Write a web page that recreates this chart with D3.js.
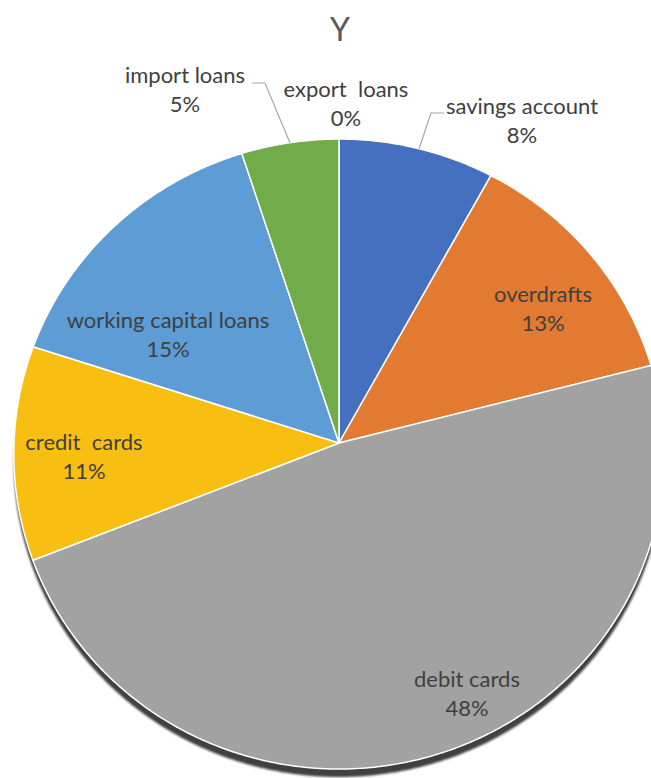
<!DOCTYPE html>
<html>
<head>
<meta charset="utf-8">
<script src="https://cdn.jsdelivr.net/npm/d3@7/dist/d3.min.js"></script>
<style>
  html, body { margin: 0; padding: 0; background: #fff; }
  svg { display: block; }
  text { font-family: Lato, "Open Sans", sans-serif; }
</style>
</head>
<body>
<svg id="chart" width="651" height="778"></svg>
<script>
// Share of each product, clockwise from 12 o'clock
const categories = ["savings account", "overdrafts", "debit cards", "credit  cards",
                    "working capital loans", "import loans", "export  loans"];
const values = [8, 13, 48, 11, 15, 5, 0];
const colors = ["#4470BF", "#E27A32", "#A2A2A2", "#F9BE12", "#5D9CD5", "#72AC4A", "#264478"];

// Label anchors (centre of the two-line label) and optional leader lines
const labelAt = {
  "savings account":       [522, 121],
  "overdrafts":            [543, 309],
  "debit cards":           [467, 694],
  "credit  cards":         [84, 457],
  "working capital loans": [168, 335],
  "import loans":          [185, 90],
  "export  loans":         [346, 104]
};
const leaders = {
  "savings account": [[419, 149], [431, 113], [444, 113]],
  "import loans":    [[252, 83], [265, 83], [290, 143]]
};

const svg = d3.select("#chart");

// Tilted disk seen in slight perspective
const cx = 339, cy = 443, A = 325, C = 0.968, K = 0.035;
function proj(theta, f) {
  const u = Math.sin(theta), v = Math.cos(theta);
  const z = 1 + K * v * f;
  return [cx + A * f * u / z, cy - A * C * f * v / z];
}
function slicePath(a0, a1) {
  const pts = [[cx, cy]];
  const n = Math.max(2, Math.ceil((a1 - a0) / (Math.PI / 360)));
  for (let i = 0; i <= n; i++) pts.push(proj(a0 + (a1 - a0) * i / n, 1));
  return d3.line()(pts) + "Z";
}

const pie = d3.pie().sort(null).value(d => d)(values);

// Title
svg.append("text")
  .attr("x", 340).attr("y", 28)
  .attr("text-anchor", "middle").attr("dominant-baseline", "central")
  .attr("font-size", 32).attr("fill", "#595959")
  .text("Y");

// Drop shadow under the disk
const defs = svg.append("defs");
defs.append("filter").attr("id", "soft")
  .append("feGaussianBlur").attr("stdDeviation", 0.8);
svg.append("path")
  .attr("d", slicePath(0, 2 * Math.PI))
  .attr("transform", "translate(0,8)")
  .attr("fill", "#3f3f3f")
  .attr("filter", "url(#soft)");

// Slices
svg.append("g").selectAll("path")
  .data(pie.filter(d => d.endAngle > d.startAngle))
  .join("path")
  .attr("d", d => slicePath(d.startAngle, d.endAngle))
  .attr("fill", d => colors[d.index])
  .attr("stroke", "#fff")
  .attr("stroke-width", 1.5)
  .attr("stroke-linejoin", "round");

// Leader lines
Object.entries(leaders).forEach(([k, pts]) => {
  svg.append("path")
    .attr("d", d3.line()(pts))
    .attr("fill", "none")
    .attr("stroke", "#a6a6a6")
    .attr("stroke-width", 1.2);
});

// Data labels
const total = d3.sum(values);
const lbl = svg.append("g");
pie.forEach(d => {
  const name = categories[d.index];
  const [x, y] = labelAt[name];
  const t = lbl.append("text")
    .attr("x", x).attr("y", y)
    .attr("text-anchor", "middle")
    .attr("font-size", 22).attr("fill", "#404040")
    .style("white-space", "pre");
  t.append("tspan").attr("x", x).attr("dy", "-0.3em").text(name);
  t.append("tspan").attr("x", x).attr("dy", "1.3em")
    .text(Math.round(d.data / total * 100) + "%");
});
</script>
</body>
</html>
